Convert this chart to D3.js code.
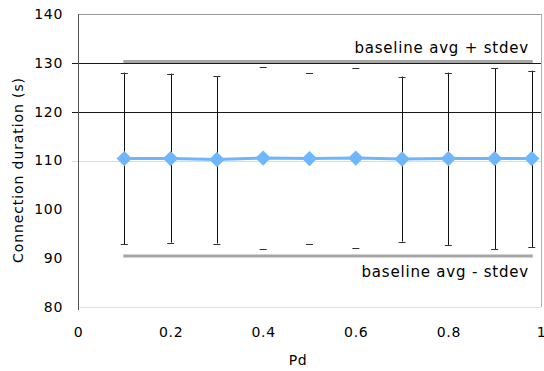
<!DOCTYPE html>
<html><head><meta charset="utf-8">
<script src="https://cdn.jsdelivr.net/npm/d3@7"></script>
<style>
html,body{margin:0;padding:0;background:#fff;}
text{font-family:"DejaVu Sans",Verdana,sans-serif;fill:#000;}
</style></head>
<body>
<svg id="c" width="544" height="371"></svg>
<script>
const pd = [0.1,0.2,0.3,0.4,0.5,0.6,0.7,0.8,0.9,0.98];
const meanDuration = [110.4,110.4,110.2,110.5,110.4,110.5,110.3,110.4,110.4,110.4];
const upperBar = [128.0,127.8,127.3,129.2,128.0,129.0,127.2,128.0,128.9,128.4];
const lowerBar = [92.9,93.2,93.0,91.8,92.8,92.0,93.4,92.7,91.8,92.3];
const stemVisible = [1,1,1,0,0,0,1,1,1,1];
const baselineUpper = 130.25;
const baselineLower = 90.45;
const baselineLabels = ["baseline avg + stdev","baseline avg - stdev"];
const yTicks = [80,90,100,110,120,130,140];
const xTicks = [0,0.2,0.4,0.6,0.8,1];
const darkGrid = [120,130];
const lightGrid = [110];

const svg = d3.select("#c");
const x = d3.scaleLinear().domain([0,1]).range([78,541]);
const y = d3.scaleLinear().domain([80,140]).range([307,14]);

// gridlines
svg.selectAll(".lg").data(lightGrid).join("line")
  .attr("x1",x(0)-6).attr("x2",x(1)).attr("y1",d=>Math.round(y(d))+0.5).attr("y2",d=>Math.round(y(d))+0.5)
  .attr("stroke","#dcdcdc").attr("stroke-width",1);
svg.selectAll(".dg").data(darkGrid).join("line")
  .attr("x1",x(0)-6).attr("x2",x(1)).attr("y1",d=>Math.round(y(d))+0.5).attr("y2",d=>Math.round(y(d))+0.5)
  .attr("stroke","#1a1a1a").attr("stroke-width",1);

// borders
svg.append("line").attr("x1",x(0)).attr("x2",x(1)).attr("y1",14.5).attr("y2",14.5).attr("stroke","#9a9a9a");
svg.append("line").attr("x1",x(1)+0.5).attr("x2",x(1)+0.5).attr("y1",14).attr("y2",307).attr("stroke","#b0b0b0");
svg.append("line").attr("x1",x(0)).attr("x2",x(1)).attr("y1",y(80)+0.5).attr("y2",y(80)+0.5).attr("stroke","#e0e0e0");
svg.append("line").attr("x1",x(0)+0.5).attr("x2",x(0)+0.5).attr("y1",14).attr("y2",310).attr("stroke","#555");

// y axis labels
const yAxis = d3.axisLeft(y).tickValues(yTicks).tickSize(0).tickPadding(15);
const ga = svg.append("g").attr("transform",`translate(${x(0)},0)`).call(yAxis);
ga.select(".domain").remove();
ga.selectAll("text").style("font-size","14px").attr("letter-spacing","0.7px").attr("fill","#000");

const xAxis = d3.axisBottom(x).tickValues(xTicks).tickSize(0).tickPadding(20).tickFormat(d3.format("~g"));
const gx = svg.append("g").attr("transform",`translate(0,${y(80)})`).call(xAxis);
gx.select(".domain").remove();
gx.selectAll("text").style("font-size","14px").attr("letter-spacing","0.7px").attr("fill","#000");

// baselines
svg.append("line").attr("x1",x(pd[0])-1).attr("x2",x(pd[pd.length-1])+1)
  .attr("y1",y(baselineUpper)).attr("y2",y(baselineUpper)).attr("stroke","#a6a6a6").attr("stroke-width",3);
svg.append("line").attr("x1",x(pd[0])-1).attr("x2",x(pd[pd.length-1])+1)
  .attr("y1",y(baselineLower)).attr("y2",y(baselineLower)).attr("stroke","#a6a6a6").attr("stroke-width",3);

svg.append("text").attr("x",529).attr("y",53).attr("text-anchor","end")
  .style("font-size","15px").attr("letter-spacing","0.8px").text(baselineLabels[0]);
svg.append("text").attr("x",529).attr("y",277).attr("text-anchor","end")
  .style("font-size","15px").attr("letter-spacing","0.8px").text(baselineLabels[1]);

// error bars
const data = pd.map((p,i)=>({p,m:meanDuration[i],u:upperBar[i],l:lowerBar[i],s:stemVisible[i]}));
const eb = svg.append("g");
eb.selectAll(".stem").data(data.filter(d=>d.s)).join("line")
  .attr("x1",d=>Math.round(x(d.p))+0.5).attr("x2",d=>Math.round(x(d.p))+0.5)
  .attr("y1",d=>y(d.u)).attr("y2",d=>y(d.l)).attr("stroke","#111").attr("stroke-width",1);
eb.selectAll(".cu").data(data).join("line")
  .attr("x1",d=>x(d.p)-3.5).attr("x2",d=>x(d.p)+3.5)
  .attr("y1",d=>Math.round(y(d.u))+0.5).attr("y2",d=>Math.round(y(d.u))+0.5).attr("stroke","#333");
eb.selectAll(".cl").data(data).join("line")
  .attr("x1",d=>x(d.p)-3.5).attr("x2",d=>x(d.p)+3.5)
  .attr("y1",d=>Math.round(y(d.l))+0.5).attr("y2",d=>Math.round(y(d.l))+0.5).attr("stroke","#333");

// mean line
const line = d3.line().x(d=>x(d.p)).y(d=>y(d.m));
svg.append("path").datum(data).attr("d",line).attr("fill","none")
  .attr("stroke","#6cb6fb").attr("stroke-width",3);
const sym = d3.symbol().type(d3.symbolDiamond2).size(150);
svg.selectAll(".pt").data(data).join("path")
  .attr("transform",d=>`translate(${x(d.p)},${y(d.m)})`)
  .attr("d",sym).attr("fill","#6fb7fd");

// axis titles
svg.append("text").attr("x",298).attr("y",365).attr("text-anchor","middle")
  .style("font-size","14px").attr("letter-spacing","0.7px").text("Pd");
svg.append("text").attr("transform","translate(23,170) rotate(-90)").attr("text-anchor","middle")
  .style("font-size","14px").attr("letter-spacing","0.9px").text("Connection duration (s)");
</script>
</body></html>
